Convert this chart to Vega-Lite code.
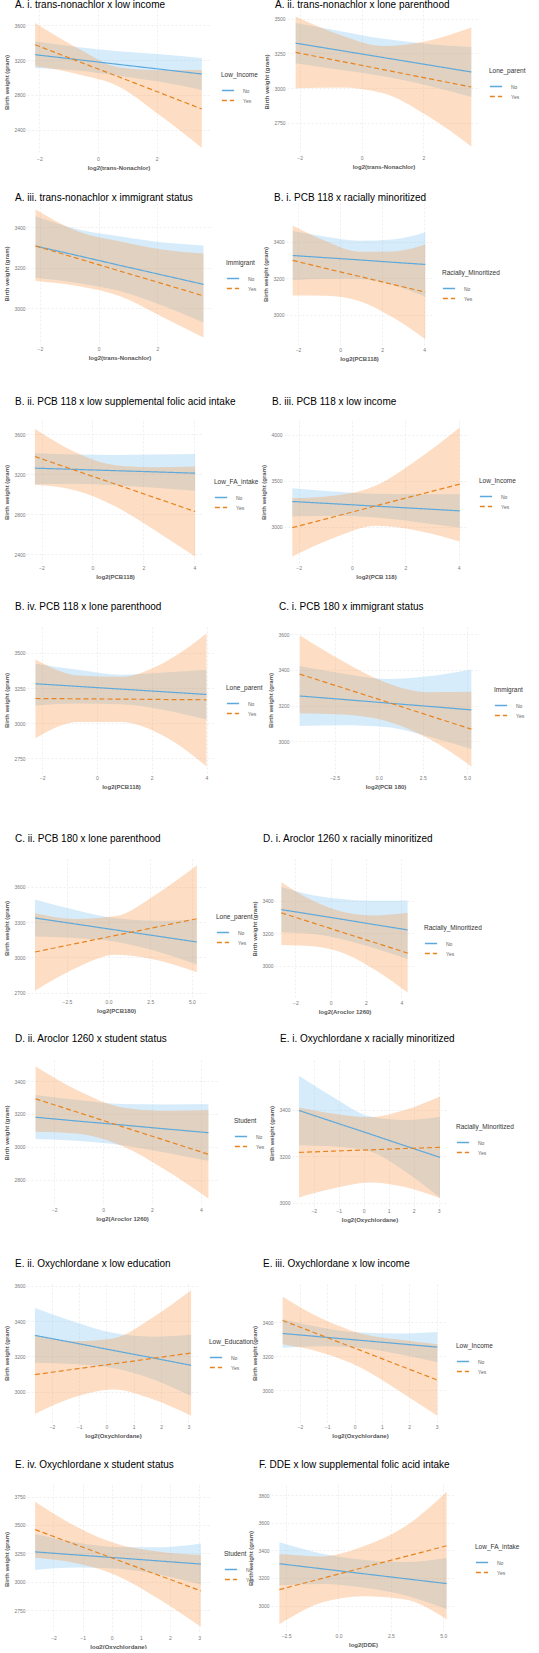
{
"$schema": "https://vega.github.io/schema/vega-lite/v6.json",
"background": "white",
"padding": {"left": 3, "top": 0, "right": 0, "bottom": 0},
"datasets": {
"p1": [
{"x":-2.14,"g":"No","fit":3261,"lo":3109,"hi":3413},{"x":-0.72,"g":"No","fit":3206,"lo":3080,"hi":3350},{"x":0.70,"g":"No","fit":3150,"lo":3020,"hi":3300},{"x":2.12,"g":"No","fit":3095,"lo":2950,"hi":3265},{"x":3.54,"g":"No","fit":3040,"lo":2857,"hi":3223},
{"x":-2.14,"g":"Yes","fit":3375,"lo":3128,"hi":3623},{"x":-0.72,"g":"Yes","fit":3191,"lo":3041,"hi":3341},{"x":0.70,"g":"Yes","fit":3008,"lo":2898,"hi":3118},{"x":2.12,"g":"Yes","fit":2824,"lo":2564,"hi":3084},{"x":3.54,"g":"Yes","fit":2640,"lo":2195,"hi":3085}],
"p2": [
{"x":-2.13,"g":"No","fit":3324,"lo":3179,"hi":3469},{"x":-0.71,"g":"No","fit":3272,"lo":3132,"hi":3412},{"x":0.71,"g":"No","fit":3220,"lo":3085,"hi":3355},{"x":2.13,"g":"No","fit":3168,"lo":3018,"hi":3318},{"x":3.55,"g":"No","fit":3116,"lo":2936,"hi":3296},
{"x":-2.13,"g":"Yes","fit":3257,"lo":2998,"hi":3516},{"x":-0.71,"g":"Yes","fit":3195,"lo":3005,"hi":3385},{"x":0.71,"g":"Yes","fit":3133,"lo":2963,"hi":3303},{"x":2.13,"g":"Yes","fit":3070,"lo":2800,"hi":3340},{"x":3.55,"g":"Yes","fit":3008,"lo":2579,"hi":3437}],
"p3": [
{"x":-2.15,"g":"No","fit":3307,"lo":3151,"hi":3454},{"x":-0.72,"g":"No","fit":3260,"lo":3125,"hi":3390},{"x":0.71,"g":"No","fit":3212,"lo":3085,"hi":3355},{"x":2.14,"g":"No","fit":3165,"lo":3015,"hi":3325},{"x":3.57,"g":"No","fit":3118,"lo":2930,"hi":3310},
{"x":-2.15,"g":"Yes","fit":3307,"lo":3134,"hi":3487},{"x":-0.72,"g":"Yes","fit":3246,"lo":3110,"hi":3380},{"x":0.71,"g":"Yes","fit":3184,"lo":3060,"hi":3330},{"x":2.14,"g":"Yes","fit":3123,"lo":2960,"hi":3290},{"x":3.57,"g":"Yes","fit":3061,"lo":2856,"hi":3270}],
"p4": [
{"x":-2.25,"g":"No","fit":3324,"lo":3189,"hi":3459},{"x":-0.68,"g":"No","fit":3312,"lo":3197,"hi":3427},{"x":0.90,"g":"No","fit":3300,"lo":3195,"hi":3405},{"x":2.48,"g":"No","fit":3287,"lo":3162,"hi":3412},{"x":4.05,"g":"No","fit":3275,"lo":3098,"hi":3452},
{"x":-2.25,"g":"Yes","fit":3297,"lo":3105,"hi":3489},{"x":-0.68,"g":"Yes","fit":3253,"lo":3103,"hi":3403},{"x":0.90,"g":"Yes","fit":3210,"lo":3075,"hi":3345},{"x":2.48,"g":"Yes","fit":3166,"lo":2986,"hi":3346},{"x":4.05,"g":"Yes","fit":3123,"lo":2864,"hi":3384}],
"p5": [
{"x":-2.26,"g":"No","fit":3260,"lo":3100,"hi":3409},{"x":-0.69,"g":"No","fit":3248,"lo":3105,"hi":3395},{"x":0.89,"g":"No","fit":3235,"lo":3090,"hi":3390},{"x":2.46,"g":"No","fit":3223,"lo":3065,"hi":3395},{"x":4.03,"g":"No","fit":3210,"lo":3034,"hi":3400},
{"x":-2.26,"g":"Yes","fit":3376,"lo":3094,"hi":3652},{"x":-0.69,"g":"Yes","fit":3239,"lo":3040,"hi":3420},{"x":0.89,"g":"Yes","fit":3102,"lo":2880,"hi":3290},{"x":2.46,"g":"Yes","fit":2965,"lo":2640,"hi":3270},{"x":4.03,"g":"Yes","fit":2828,"lo":2379,"hi":3276}],
"p6": [
{"x":-2.24,"g":"No","fit":3275,"lo":3111,"hi":3420},{"x":-0.67,"g":"No","fit":3250,"lo":3120,"hi":3385},{"x":0.90,"g":"No","fit":3224,"lo":3100,"hi":3360},{"x":2.47,"g":"No","fit":3199,"lo":3050,"hi":3355},{"x":4.04,"g":"No","fit":3173,"lo":2991,"hi":3355},
{"x":-2.24,"g":"Yes","fit":2991,"lo":2675,"hi":3311},{"x":-0.67,"g":"Yes","fit":3109,"lo":2879,"hi":3339},{"x":0.90,"g":"Yes","fit":3228,"lo":3010,"hi":3450},{"x":2.47,"g":"Yes","fit":3346,"lo":2956,"hi":3736},{"x":4.04,"g":"Yes","fit":3464,"lo":2838,"hi":4082}],
"p7": [
{"x":-2.24,"g":"No","fit":3281,"lo":3127,"hi":3423},{"x":-0.68,"g":"No","fit":3262,"lo":3140,"hi":3380},{"x":0.88,"g":"No","fit":3243,"lo":3135,"hi":3345},{"x":2.44,"g":"No","fit":3224,"lo":3095,"hi":3360},{"x":4.0,"g":"No","fit":3205,"lo":3027,"hi":3381},
{"x":-2.24,"g":"Yes","fit":3176,"lo":2894,"hi":3454},{"x":-0.68,"g":"Yes","fit":3174,"lo":3010,"hi":3340},{"x":0.88,"g":"Yes","fit":3172,"lo":3010,"hi":3330},{"x":2.44,"g":"Yes","fit":3169,"lo":2910,"hi":3430},{"x":4.0,"g":"Yes","fit":3167,"lo":2694,"hi":3637}],
"p8": [
{"x":-4.48,"g":"No","fit":3254,"lo":3086,"hi":3422},{"x":-2.05,"g":"No","fit":3235,"lo":3090,"hi":3380},{"x":0.39,"g":"No","fit":3215,"lo":3080,"hi":3350},{"x":2.82,"g":"No","fit":3196,"lo":3027,"hi":3365},{"x":5.25,"g":"No","fit":3176,"lo":2956,"hi":3403},
{"x":-4.48,"g":"Yes","fit":3377,"lo":3157,"hi":3595},{"x":-2.05,"g":"Yes","fit":3300,"lo":3150,"hi":3450},{"x":0.39,"g":"Yes","fit":3223,"lo":3115,"hi":3330},{"x":2.82,"g":"Yes","fit":3145,"lo":3015,"hi":3275},{"x":5.25,"g":"Yes","fit":3068,"lo":2859,"hi":3278}],
"p9": [
{"x":-4.42,"g":"No","fit":3334,"lo":3176,"hi":3492},{"x":-1.99,"g":"No","fit":3283,"lo":3163,"hi":3403},{"x":0.44,"g":"No","fit":3232,"lo":3132,"hi":3332},{"x":2.87,"g":"No","fit":3181,"lo":3051,"hi":3311},{"x":5.30,"g":"No","fit":3130,"lo":2938,"hi":3322},
{"x":-4.42,"g":"Yes","fit":3045,"lo":2715,"hi":3375},{"x":-1.99,"g":"Yes","fit":3116,"lo":2906,"hi":3326},{"x":0.44,"g":"Yes","fit":3186,"lo":3021,"hi":3351},{"x":2.87,"g":"Yes","fit":3257,"lo":2977,"hi":3537},{"x":5.30,"g":"Yes","fit":3328,"lo":2873,"hi":3783}],
"p10": [
{"x":-2.79,"g":"No","fit":3346,"lo":3206,"hi":3485},{"x":-1.00,"g":"No","fit":3315,"lo":3195,"hi":3435},{"x":0.78,"g":"No","fit":3284,"lo":3160,"hi":3410},{"x":2.57,"g":"No","fit":3252,"lo":3105,"hi":3400},{"x":4.36,"g":"No","fit":3221,"lo":3041,"hi":3402},
{"x":-2.79,"g":"Yes","fit":3326,"lo":3128,"hi":3515},{"x":-1.00,"g":"Yes","fit":3264,"lo":3120,"hi":3400},{"x":0.78,"g":"Yes","fit":3202,"lo":3075,"hi":3330},{"x":2.57,"g":"Yes","fit":3140,"lo":2970,"hi":3310},{"x":4.36,"g":"Yes","fit":3078,"lo":2835,"hi":3326}],
"p11": [
{"x":-2.76,"g":"No","fit":3180,"lo":3047,"hi":3316},{"x":-0.99,"g":"No","fit":3156,"lo":3035,"hi":3285},{"x":0.78,"g":"No","fit":3133,"lo":3010,"hi":3260},{"x":2.54,"g":"No","fit":3109,"lo":2965,"hi":3258},{"x":4.31,"g":"No","fit":3086,"lo":2913,"hi":3259},
{"x":-2.76,"g":"Yes","fit":3292,"lo":3092,"hi":3489},{"x":-0.99,"g":"Yes","fit":3208,"lo":3080,"hi":3340},{"x":0.78,"g":"Yes","fit":3123,"lo":3005,"hi":3240},{"x":2.54,"g":"Yes","fit":3039,"lo":2860,"hi":3220},{"x":4.31,"g":"Yes","fit":2954,"lo":2685,"hi":3224}],
"p12": [
{"x":-2.59,"g":"No","fit":3397,"lo":3248,"hi":3546},{"x":-1.18,"g":"No","fit":3347,"lo":3242,"hi":3452},{"x":0.23,"g":"No","fit":3297,"lo":3222,"hi":3372},{"x":1.64,"g":"No","fit":3246,"lo":3136,"hi":3356},{"x":3.05,"g":"No","fit":3196,"lo":3022,"hi":3370},
{"x":-2.59,"g":"Yes","fit":3217,"lo":3024,"hi":3410},{"x":-1.18,"g":"Yes","fit":3223,"lo":3063,"hi":3383},{"x":0.23,"g":"Yes","fit":3228,"lo":3088,"hi":3368},{"x":1.64,"g":"Yes","fit":3234,"lo":3069,"hi":3399},{"x":3.05,"g":"Yes","fit":3239,"lo":3021,"hi":3457}],
"p13": [
{"x":-2.62,"g":"No","fit":3319,"lo":3164,"hi":3474},{"x":-1.19,"g":"No","fit":3277,"lo":3157,"hi":3397},{"x":0.24,"g":"No","fit":3234,"lo":3134,"hi":3334},{"x":1.67,"g":"No","fit":3192,"lo":3072,"hi":3312},{"x":3.10,"g":"No","fit":3149,"lo":2975,"hi":3323},
{"x":-2.62,"g":"Yes","fit":3096,"lo":2872,"hi":3320},{"x":-1.19,"g":"Yes","fit":3127,"lo":2967,"hi":3287},{"x":0.24,"g":"Yes","fit":3157,"lo":3012,"hi":3302},{"x":1.67,"g":"Yes","fit":3188,"lo":2958,"hi":3418},{"x":3.10,"g":"Yes","fit":3219,"lo":2863,"hi":3575}],
"p14": [
{"x":-2.63,"g":"No","fit":3333,"lo":3249,"hi":3417},{"x":-1.22,"g":"No","fit":3313,"lo":3258,"hi":3368},{"x":0.20,"g":"No","fit":3293,"lo":3248,"hi":3338},{"x":1.62,"g":"No","fit":3273,"lo":3213,"hi":3333},{"x":3.03,"g":"No","fit":3253,"lo":3164,"hi":3342},
{"x":-2.63,"g":"Yes","fit":3409,"lo":3270,"hi":3548},{"x":-1.22,"g":"Yes","fit":3322,"lo":3222,"hi":3422},{"x":0.20,"g":"Yes","fit":3235,"lo":3135,"hi":3335},{"x":1.62,"g":"Yes","fit":3147,"lo":2997,"hi":3297},{"x":3.03,"g":"Yes","fit":3060,"lo":2850,"hi":3270}],
"p15": [
{"x":-2.63,"g":"No","fit":3264,"lo":3106,"hi":3422},{"x":-1.21,"g":"No","fit":3237,"lo":3127,"hi":3347},{"x":0.22,"g":"No","fit":3211,"lo":3116,"hi":3306},{"x":1.64,"g":"No","fit":3184,"lo":3064,"hi":3304},{"x":3.06,"g":"No","fit":3157,"lo":2977,"hi":3337},
{"x":-2.63,"g":"Yes","fit":3459,"lo":3213,"hi":3705},{"x":-1.21,"g":"Yes","fit":3325,"lo":3165,"hi":3485},{"x":0.22,"g":"Yes","fit":3191,"lo":3051,"hi":3331},{"x":1.64,"g":"Yes","fit":3056,"lo":2846,"hi":3266},{"x":3.06,"g":"Yes","fit":2922,"lo":2607,"hi":3237}],
"p16": [
{"x":-2.82,"g":"No","fit":3303,"lo":3148,"hi":3458},{"x":-0.82,"g":"No","fit":3267,"lo":3157,"hi":3377},{"x":1.17,"g":"No","fit":3231,"lo":3131,"hi":3331},{"x":3.17,"g":"No","fit":3195,"lo":3075,"hi":3315},{"x":5.16,"g":"No","fit":3159,"lo":2974,"hi":3344},
{"x":-2.82,"g":"Yes","fit":3116,"lo":2864,"hi":3373},{"x":-0.82,"g":"Yes","fit":3195,"lo":3020,"hi":3356},{"x":1.17,"g":"Yes","fit":3275,"lo":3068,"hi":3428},{"x":3.17,"g":"Yes","fit":3354,"lo":3044,"hi":3572},{"x":5.16,"g":"Yes","fit":3433,"lo":2900,"hi":3825}]
},
"spacing": 23,
"resolve": {"scale": {"x": "independent", "y": "independent", "stroke": "independent", "strokeDash": "independent"}, "legend": {"stroke": "independent", "strokeDash": "independent"}},
"vconcat": [
{"hconcat": [
 {"title": {"text": "A.  i. trans-nonachlor x low income", "offset": 0}, "width": 183, "height": 144, "data": {"name": "p1"},
  "encoding": {"x": {"field": "x", "type": "quantitative", "scale": {"domain": [-2.42, 3.82], "nice": false, "zero": false}, "axis": {"values": [-2, 0, 2], "title": "log2(trans-Nonachlor)"}}, "y": {"field": "hi", "type": "quantitative", "scale": {"domain": [2124, 3773], "nice": false, "zero": false}, "axis": {"values": [2400, 2800, 3200, 3600], "format": "d", "title": "Birth weight (gram)"}}},
  "layer": [
   {"transform": [{"filter": {"field": "g", "equal": "No"}}], "mark": {"type": "area", "fill": "#7AC0EE", "opacity": 0.3, "interpolate": "monotone"}, "encoding": {"y2": {"field": "lo"}}},
   {"transform": [{"filter": {"field": "g", "equal": "Yes"}}], "mark": {"type": "area", "fill": "#F8913A", "opacity": 0.3, "interpolate": "monotone"}, "encoding": {"y2": {"field": "lo"}}},
   {"mark": {"type": "line", "strokeWidth": 1.2}, "encoding": {"y": {"field": "fit", "type": "quantitative"},
    "stroke": {"field": "g", "type": "nominal", "scale": {"domain": ["No", "Yes"], "range": ["#5DA9DC", "#E8841F"]}, "legend": {"title": "Low_Income", "orient": "none", "legendX": 194, "legendY": 62}},
    "strokeDash": {"field": "g", "type": "nominal", "scale": {"domain": ["No", "Yes"], "range": [[1, 0], [5, 3]]}, "legend": {"title": "Low_Income", "orient": "none", "legendX": 194, "legendY": 62}}}}
  ]},
 {"title": {"text": "A. ii. trans-nonachlor x lone parenthood", "offset": 0}, "width": 193, "height": 143, "data": {"name": "p2"},
  "encoding": {"x": {"field": "x", "type": "quantitative", "scale": {"domain": [-2.41, 3.83], "nice": false, "zero": false}, "axis": {"values": [-2, 0, 2], "title": "log2(trans-Nonachlor)"}}, "y": {"field": "hi", "type": "quantitative", "scale": {"domain": [2532, 3563], "nice": false, "zero": false}, "axis": {"values": [2750, 3000, 3250, 3500], "format": "d", "title": "Birth weight (gram)"}}},
  "layer": [
   {"transform": [{"filter": {"field": "g", "equal": "No"}}], "mark": {"type": "area", "fill": "#7AC0EE", "opacity": 0.3, "interpolate": "monotone"}, "encoding": {"y2": {"field": "lo"}}},
   {"transform": [{"filter": {"field": "g", "equal": "Yes"}}], "mark": {"type": "area", "fill": "#F8913A", "opacity": 0.3, "interpolate": "monotone"}, "encoding": {"y2": {"field": "lo"}}},
   {"mark": {"type": "line", "strokeWidth": 1.2}, "encoding": {"y": {"field": "fit", "type": "quantitative"},
    "stroke": {"field": "g", "type": "nominal", "scale": {"domain": ["No", "Yes"], "range": ["#5DA9DC", "#E8841F"]}, "legend": {"title": "Lone_parent", "orient": "none", "legendX": 202, "legendY": 58}},
    "strokeDash": {"field": "g", "type": "nominal", "scale": {"domain": ["No", "Yes"], "range": [[1, 0], [5, 3]]}, "legend": {"title": "Lone_parent", "orient": "none", "legendX": 202, "legendY": 58}}}}
  ]}
 ], "spacing": 77, "bounds": "flush",
 "resolve": {"scale": {"x": "independent", "y": "independent", "stroke": "independent", "strokeDash": "independent"}, "legend": {"stroke": "independent", "strokeDash": "independent"}}},
{"spacing": 36,
 "resolve": {"scale": {"x": "independent", "y": "independent", "stroke": "independent", "strokeDash": "independent"}, "legend": {"stroke": "independent", "strokeDash": "independent"}},
 "vconcat": [
{"hconcat": [
 {"title": {"text": "A.  iii. trans-nonachlor x immigrant status", "offset": 0}, "width": 185, "height": 141, "data": {"name": "p3"},
  "encoding": {"x": {"field": "x", "type": "quantitative", "scale": {"domain": [-2.44, 3.86], "nice": false, "zero": false}, "axis": {"values": [-2, 0, 2], "title": "log2(trans-Nonachlor)"}}, "y": {"field": "hi", "type": "quantitative", "scale": {"domain": [2824, 3519], "nice": false, "zero": false}, "axis": {"values": [3000, 3200, 3400], "format": "d", "title": "Birth weight (gram)"}}},
  "layer": [
   {"transform": [{"filter": {"field": "g", "equal": "No"}}], "mark": {"type": "area", "fill": "#7AC0EE", "opacity": 0.3, "interpolate": "monotone"}, "encoding": {"y2": {"field": "lo"}}},
   {"transform": [{"filter": {"field": "g", "equal": "Yes"}}], "mark": {"type": "area", "fill": "#F8913A", "opacity": 0.3, "interpolate": "monotone"}, "encoding": {"y2": {"field": "lo"}}},
   {"mark": {"type": "line", "strokeWidth": 1.2}, "encoding": {"y": {"field": "fit", "type": "quantitative"},
    "stroke": {"field": "g", "type": "nominal", "scale": {"domain": ["No", "Yes"], "range": ["#5DA9DC", "#E8841F"]}, "legend": {"title": "Immigrant", "orient": "none", "legendX": 199, "legendY": 57}},
    "strokeDash": {"field": "g", "type": "nominal", "scale": {"domain": ["No", "Yes"], "range": [[1, 0], [5, 3]]}, "legend": {"title": "Immigrant", "orient": "none", "legendX": 199, "legendY": 57}}}}
  ]},
 {"title": {"text": "B. i. PCB 118 x racially minoritized", "offset": 0}, "width": 146, "height": 142, "data": {"name": "p4"},
  "encoding": {"x": {"field": "x", "type": "quantitative", "scale": {"domain": [-2.57, 4.37], "nice": false, "zero": false}, "axis": {"values": [-2, 0, 2, 4], "title": "log2(PCB118)"}}, "y": {"field": "hi", "type": "quantitative", "scale": {"domain": [2833, 3612], "nice": false, "zero": false}, "axis": {"values": [3000, 3200, 3400], "format": "d", "title": "Birth weight (gram)"}}},
  "layer": [
   {"transform": [{"filter": {"field": "g", "equal": "No"}}], "mark": {"type": "area", "fill": "#7AC0EE", "opacity": 0.3, "interpolate": "monotone"}, "encoding": {"y2": {"field": "lo"}}},
   {"transform": [{"filter": {"field": "g", "equal": "Yes"}}], "mark": {"type": "area", "fill": "#F8913A", "opacity": 0.3, "interpolate": "monotone"}, "encoding": {"y2": {"field": "lo"}}},
   {"mark": {"type": "line", "strokeWidth": 1.2}, "encoding": {"y": {"field": "fit", "type": "quantitative"},
    "stroke": {"field": "g", "type": "nominal", "scale": {"domain": ["No", "Yes"], "range": ["#5DA9DC", "#E8841F"]}, "legend": {"title": "Racially_Minoritized", "orient": "none", "legendX": 156, "legendY": 67}},
    "strokeDash": {"field": "g", "type": "nominal", "scale": {"domain": ["No", "Yes"], "range": [[1, 0], [5, 3]]}, "legend": {"title": "Racially_Minoritized", "orient": "none", "legendX": 156, "legendY": 67}}}}
  ]}
 ], "spacing": 74, "bounds": "flush",
 "resolve": {"scale": {"x": "independent", "y": "independent", "stroke": "independent", "strokeDash": "independent"}, "legend": {"stroke": "independent", "strokeDash": "independent"}}},
{"spacing": 23,
 "resolve": {"scale": {"x": "independent", "y": "independent", "stroke": "independent", "strokeDash": "independent"}, "legend": {"stroke": "independent", "strokeDash": "independent"}},
 "vconcat": [
{"hconcat": [
 {"title": {"text": "B.  ii. PCB 118 x low supplemental folic acid intake", "offset": 14}, "width": 176, "height": 142, "data": {"name": "p5"},
  "encoding": {"x": {"field": "x", "type": "quantitative", "scale": {"domain": [-2.57, 4.34], "nice": false, "zero": false}, "axis": {"values": [-2, 0, 2, 4], "title": "log2(PCB118)"}}, "y": {"field": "hi", "type": "quantitative", "scale": {"domain": [2315, 3730], "nice": false, "zero": false}, "axis": {"values": [2400, 2800, 3200, 3600], "format": "d", "title": "Birth weight (gram)"}}},
  "layer": [
   {"transform": [{"filter": {"field": "g", "equal": "No"}}], "mark": {"type": "area", "fill": "#7AC0EE", "opacity": 0.3, "interpolate": "monotone"}, "encoding": {"y2": {"field": "lo"}}},
   {"transform": [{"filter": {"field": "g", "equal": "Yes"}}], "mark": {"type": "area", "fill": "#F8913A", "opacity": 0.3, "interpolate": "monotone"}, "encoding": {"y2": {"field": "lo"}}},
   {"mark": {"type": "line", "strokeWidth": 1.2}, "encoding": {"y": {"field": "fit", "type": "quantitative"},
    "stroke": {"field": "g", "type": "nominal", "scale": {"domain": ["No", "Yes"], "range": ["#5DA9DC", "#E8841F"]}, "legend": {"title": "Low_FA_intake", "orient": "none", "legendX": 187, "legendY": 58}},
    "strokeDash": {"field": "g", "type": "nominal", "scale": {"domain": ["No", "Yes"], "range": [[1, 0], [5, 3]]}, "legend": {"title": "Low_FA_intake", "orient": "none", "legendX": 187, "legendY": 58}}}}
  ]},
 {"title": {"text": "B. iii. PCB 118 x low income", "offset": 14}, "width": 184, "height": 142, "data": {"name": "p6"},
  "encoding": {"x": {"field": "x", "type": "quantitative", "scale": {"domain": [-2.55, 4.35], "nice": false, "zero": false}, "axis": {"values": [-2, 0, 2, 4], "title": "log2(PCB 118)"}}, "y": {"field": "hi", "type": "quantitative", "scale": {"domain": [2605, 4152], "nice": false, "zero": false}, "axis": {"values": [3000, 3500, 4000], "format": "d", "title": "Birth weight (gram)"}}},
  "layer": [
   {"transform": [{"filter": {"field": "g", "equal": "No"}}], "mark": {"type": "area", "fill": "#7AC0EE", "opacity": 0.3, "interpolate": "monotone"}, "encoding": {"y2": {"field": "lo"}}},
   {"transform": [{"filter": {"field": "g", "equal": "Yes"}}], "mark": {"type": "area", "fill": "#F8913A", "opacity": 0.3, "interpolate": "monotone"}, "encoding": {"y2": {"field": "lo"}}},
   {"mark": {"type": "line", "strokeWidth": 1.2}, "encoding": {"y": {"field": "fit", "type": "quantitative"},
    "stroke": {"field": "g", "type": "nominal", "scale": {"domain": ["No", "Yes"], "range": ["#5DA9DC", "#E8841F"]}, "legend": {"title": "Low_Income", "orient": "none", "legendX": 195, "legendY": 57}},
    "strokeDash": {"field": "g", "type": "nominal", "scale": {"domain": ["No", "Yes"], "range": [[1, 0], [5, 3]]}, "legend": {"title": "Low_Income", "orient": "none", "legendX": 195, "legendY": 57}}}}
  ]}
 ], "spacing": 81, "bounds": "flush",
 "resolve": {"scale": {"x": "independent", "y": "independent", "stroke": "independent", "strokeDash": "independent"}, "legend": {"stroke": "independent", "strokeDash": "independent"}}},
{"spacing": 45,
 "resolve": {"scale": {"x": "independent", "y": "independent", "stroke": "independent", "strokeDash": "independent"}, "legend": {"stroke": "independent", "strokeDash": "independent"}},
 "vconcat": [
{"hconcat": [
 {"title": {"text": "B.  iv. PCB 118 x lone parenthood", "offset": 15}, "width": 188, "height": 146, "data": {"name": "p7"},
  "encoding": {"x": {"field": "x", "type": "quantitative", "scale": {"domain": [-2.55, 4.31], "nice": false, "zero": false}, "axis": {"values": [-2, 0, 2, 4], "title": "log2(PCB118)"}}, "y": {"field": "hi", "type": "quantitative", "scale": {"domain": [2647, 3684], "nice": false, "zero": false}, "axis": {"values": [2750, 3000, 3250, 3500], "format": "d", "title": "Birth weight (gram)"}}},
  "layer": [
   {"transform": [{"filter": {"field": "g", "equal": "No"}}], "mark": {"type": "area", "fill": "#7AC0EE", "opacity": 0.3, "interpolate": "monotone"}, "encoding": {"y2": {"field": "lo"}}},
   {"transform": [{"filter": {"field": "g", "equal": "Yes"}}], "mark": {"type": "area", "fill": "#F8913A", "opacity": 0.3, "interpolate": "monotone"}, "encoding": {"y2": {"field": "lo"}}},
   {"mark": {"type": "line", "strokeWidth": 1.2}, "encoding": {"y": {"field": "fit", "type": "quantitative"},
    "stroke": {"field": "g", "type": "nominal", "scale": {"domain": ["No", "Yes"], "range": ["#5DA9DC", "#E8841F"]}, "legend": {"title": "Lone_parent", "orient": "none", "legendX": 199, "legendY": 58}},
    "strokeDash": {"field": "g", "type": "nominal", "scale": {"domain": ["No", "Yes"], "range": [[1, 0], [5, 3]]}, "legend": {"title": "Lone_parent", "orient": "none", "legendX": 199, "legendY": 58}}}}
  ]},
 {"title": {"text": "C. i. PCB 180 x immigrant status", "offset": 15}, "width": 189, "height": 146, "data": {"name": "p8"},
  "encoding": {"x": {"field": "x", "type": "quantitative", "scale": {"domain": [-4.97, 5.74], "nice": false, "zero": false}, "axis": {"values": [-2.5, 0, 2.5, 5], "format": ".1f", "title": "log2(PCB 180)"}}, "y": {"field": "hi", "type": "quantitative", "scale": {"domain": [2822, 3641], "nice": false, "zero": false}, "axis": {"values": [3000, 3200, 3400, 3600], "format": "d", "title": "Birth weight (gram)"}}},
  "layer": [
   {"transform": [{"filter": {"field": "g", "equal": "No"}}], "mark": {"type": "area", "fill": "#7AC0EE", "opacity": 0.3, "interpolate": "monotone"}, "encoding": {"y2": {"field": "lo"}}},
   {"transform": [{"filter": {"field": "g", "equal": "Yes"}}], "mark": {"type": "area", "fill": "#F8913A", "opacity": 0.3, "interpolate": "monotone"}, "encoding": {"y2": {"field": "lo"}}},
   {"mark": {"type": "line", "strokeWidth": 1.2}, "encoding": {"y": {"field": "fit", "type": "quantitative"},
    "stroke": {"field": "g", "type": "nominal", "scale": {"domain": ["No", "Yes"], "range": ["#5DA9DC", "#E8841F"]}, "legend": {"title": "Immigrant", "orient": "none", "legendX": 203, "legendY": 60}},
    "strokeDash": {"field": "g", "type": "nominal", "scale": {"domain": ["No", "Yes"], "range": [[1, 0], [5, 3]]}, "legend": {"title": "Immigrant", "orient": "none", "legendX": 203, "legendY": 60}}}}
  ]}
 ], "spacing": 76, "bounds": "flush",
 "resolve": {"scale": {"x": "independent", "y": "independent", "stroke": "independent", "strokeDash": "independent"}, "legend": {"stroke": "independent", "strokeDash": "independent"}}},
{"spacing": 20,
 "resolve": {"scale": {"x": "independent", "y": "independent", "stroke": "independent", "strokeDash": "independent"}, "legend": {"stroke": "independent", "strokeDash": "independent"}},
 "vconcat": [
{"hconcat": [
 {"title": {"text": "C. ii. PCB 180 x lone parenthood", "offset": 15}, "width": 178, "height": 138, "data": {"name": "p9"},
  "encoding": {"x": {"field": "x", "type": "quantitative", "scale": {"domain": [-4.9, 5.79], "nice": false, "zero": false}, "axis": {"values": [-2.5, 0, 2.5, 5], "format": ".1f", "title": "log2(PCB180)"}}, "y": {"field": "hi", "type": "quantitative", "scale": {"domain": [2662, 3836], "nice": false, "zero": false}, "axis": {"values": [2700, 3000, 3300, 3600], "format": "d", "title": "Birth weight (gram)"}}},
  "layer": [
   {"transform": [{"filter": {"field": "g", "equal": "No"}}], "mark": {"type": "area", "fill": "#7AC0EE", "opacity": 0.3, "interpolate": "monotone"}, "encoding": {"y2": {"field": "lo"}}},
   {"transform": [{"filter": {"field": "g", "equal": "Yes"}}], "mark": {"type": "area", "fill": "#F8913A", "opacity": 0.3, "interpolate": "monotone"}, "encoding": {"y2": {"field": "lo"}}},
   {"mark": {"type": "line", "strokeWidth": 1.2}, "encoding": {"y": {"field": "fit", "type": "quantitative"},
    "stroke": {"field": "g", "type": "nominal", "scale": {"domain": ["No", "Yes"], "range": ["#5DA9DC", "#E8841F"]}, "legend": {"title": "Lone_parent", "orient": "none", "legendX": 189, "legendY": 55}},
    "strokeDash": {"field": "g", "type": "nominal", "scale": {"domain": ["No", "Yes"], "range": [[1, 0], [5, 3]]}, "legend": {"title": "Lone_parent", "orient": "none", "legendX": 189, "legendY": 55}}}}
  ]},
 {"title": {"text": "D. i. Aroclor 1260 x racially minoritized", "offset": 15}, "width": 139, "height": 139, "data": {"name": "p10"},
  "encoding": {"x": {"field": "x", "type": "quantitative", "scale": {"domain": [-3.15, 4.72], "nice": false, "zero": false}, "axis": {"values": [-2, 0, 2, 4], "title": "log2(Aroclor 1260)"}}, "y": {"field": "hi", "type": "quantitative", "scale": {"domain": [2801, 3658], "nice": false, "zero": false}, "axis": {"values": [3000, 3200, 3400], "format": "d", "title": "Birth weight (gram)"}}},
  "layer": [
   {"transform": [{"filter": {"field": "g", "equal": "No"}}], "mark": {"type": "area", "fill": "#7AC0EE", "opacity": 0.3, "interpolate": "monotone"}, "encoding": {"y2": {"field": "lo"}}},
   {"transform": [{"filter": {"field": "g", "equal": "Yes"}}], "mark": {"type": "area", "fill": "#F8913A", "opacity": 0.3, "interpolate": "monotone"}, "encoding": {"y2": {"field": "lo"}}},
   {"mark": {"type": "line", "strokeWidth": 1.2}, "encoding": {"y": {"field": "fit", "type": "quantitative"},
    "stroke": {"field": "g", "type": "nominal", "scale": {"domain": ["No", "Yes"], "range": ["#5DA9DC", "#E8841F"]}, "legend": {"title": "Racially_Minoritized", "orient": "none", "legendX": 149, "legendY": 66}},
    "strokeDash": {"field": "g", "type": "nominal", "scale": {"domain": ["No", "Yes"], "range": [[1, 0], [5, 3]]}, "legend": {"title": "Racially_Minoritized", "orient": "none", "legendX": 149, "legendY": 66}}}}
  ]}
 ], "spacing": 70, "bounds": "flush",
 "resolve": {"scale": {"x": "independent", "y": "independent", "stroke": "independent", "strokeDash": "independent"}, "legend": {"stroke": "independent", "strokeDash": "independent"}}},
{"spacing": 36,
 "resolve": {"scale": {"x": "independent", "y": "independent", "stroke": "independent", "strokeDash": "independent"}, "legend": {"stroke": "independent", "strokeDash": "independent"}},
 "vconcat": [
{"hconcat": [
 {"title": {"text": "D. ii. Aroclor 1260 x student status", "offset": 16}, "width": 190, "height": 145, "data": {"name": "p11"},
  "encoding": {"x": {"field": "x", "type": "quantitative", "scale": {"domain": [-3.11, 4.66], "nice": false, "zero": false}, "axis": {"values": [-2, 0, 2, 4], "title": "log2(Aroclor 1260)"}}, "y": {"field": "hi", "type": "quantitative", "scale": {"domain": [2645, 3529], "nice": false, "zero": false}, "axis": {"values": [2800, 3000, 3200, 3400], "format": "d", "title": "Birth weight (gram)"}}},
  "layer": [
   {"transform": [{"filter": {"field": "g", "equal": "No"}}], "mark": {"type": "area", "fill": "#7AC0EE", "opacity": 0.3, "interpolate": "monotone"}, "encoding": {"y2": {"field": "lo"}}},
   {"transform": [{"filter": {"field": "g", "equal": "Yes"}}], "mark": {"type": "area", "fill": "#F8913A", "opacity": 0.3, "interpolate": "monotone"}, "encoding": {"y2": {"field": "lo"}}},
   {"mark": {"type": "line", "strokeWidth": 1.2}, "encoding": {"y": {"field": "fit", "type": "quantitative"},
    "stroke": {"field": "g", "type": "nominal", "scale": {"domain": ["No", "Yes"], "range": ["#5DA9DC", "#E8841F"]}, "legend": {"title": "Student", "orient": "none", "legendX": 207, "legendY": 58}},
    "strokeDash": {"field": "g", "type": "nominal", "scale": {"domain": ["No", "Yes"], "range": [[1, 0], [5, 3]]}, "legend": {"title": "Student", "orient": "none", "legendX": 207, "legendY": 58}}}}
  ]},
 {"title": {"text": "E. i. Oxychlordane x racially minoritized", "offset": 16}, "width": 155, "height": 146, "data": {"name": "p12"},
  "encoding": {"x": {"field": "x", "type": "quantitative", "scale": {"domain": [-2.87, 3.33], "nice": false, "zero": false}, "axis": {"values": [-2, -1, 0, 1, 2, 3], "title": "log2(Oxychlordane)"}}, "y": {"field": "hi", "type": "quantitative", "scale": {"domain": [2987, 3614], "nice": false, "zero": false}, "axis": {"values": [3000, 3200, 3400], "format": "d", "title": "Birth weight (gram)"}}},
  "layer": [
   {"transform": [{"filter": {"field": "g", "equal": "No"}}], "mark": {"type": "area", "fill": "#7AC0EE", "opacity": 0.3, "interpolate": "monotone"}, "encoding": {"y2": {"field": "lo"}}},
   {"transform": [{"filter": {"field": "g", "equal": "Yes"}}], "mark": {"type": "area", "fill": "#F8913A", "opacity": 0.3, "interpolate": "monotone"}, "encoding": {"y2": {"field": "lo"}}},
   {"mark": {"type": "line", "strokeWidth": 1.2}, "encoding": {"y": {"field": "fit", "type": "quantitative"},
    "stroke": {"field": "g", "type": "nominal", "scale": {"domain": ["No", "Yes"], "range": ["#5DA9DC", "#E8841F"]}, "legend": {"title": "Racially_Minoritized", "orient": "none", "legendX": 164, "legendY": 64}},
    "strokeDash": {"field": "g", "type": "nominal", "scale": {"domain": ["No", "Yes"], "range": [[1, 0], [5, 3]]}, "legend": {"title": "Racially_Minoritized", "orient": "none", "legendX": 164, "legendY": 64}}}}
  ]}
 ], "spacing": 75, "bounds": "flush",
 "resolve": {"scale": {"x": "independent", "y": "independent", "stroke": "independent", "strokeDash": "independent"}, "legend": {"stroke": "independent", "strokeDash": "independent"}}},
{"spacing": 22,
 "resolve": {"scale": {"x": "independent", "y": "independent", "stroke": "independent", "strokeDash": "independent"}, "legend": {"stroke": "independent", "strokeDash": "independent"}},
 "vconcat": [
{"hconcat": [
 {"title": {"text": "E. ii. Oxychlordane x low education", "offset": 15}, "width": 172, "height": 138, "data": {"name": "p13"},
  "encoding": {"x": {"field": "x", "type": "quantitative", "scale": {"domain": [-2.91, 3.39], "nice": false, "zero": false}, "axis": {"values": [-2, -1, 0, 1, 2, 3], "title": "log2(Oxychlordane)"}}, "y": {"field": "hi", "type": "quantitative", "scale": {"domain": [2827, 3611], "nice": false, "zero": false}, "axis": {"values": [3000, 3200, 3400, 3600], "format": "d", "title": "Birth weight (gram)"}}},
  "layer": [
   {"transform": [{"filter": {"field": "g", "equal": "No"}}], "mark": {"type": "area", "fill": "#7AC0EE", "opacity": 0.3, "interpolate": "monotone"}, "encoding": {"y2": {"field": "lo"}}},
   {"transform": [{"filter": {"field": "g", "equal": "Yes"}}], "mark": {"type": "area", "fill": "#F8913A", "opacity": 0.3, "interpolate": "monotone"}, "encoding": {"y2": {"field": "lo"}}},
   {"mark": {"type": "line", "strokeWidth": 1.2}, "encoding": {"y": {"field": "fit", "type": "quantitative"},
    "stroke": {"field": "g", "type": "nominal", "scale": {"domain": ["No", "Yes"], "range": ["#5DA9DC", "#E8841F"]}, "legend": {"title": "Low_Education", "orient": "none", "legendX": 182, "legendY": 55}},
    "strokeDash": {"field": "g", "type": "nominal", "scale": {"domain": ["No", "Yes"], "range": [[1, 0], [5, 3]]}, "legend": {"title": "Low_Education", "orient": "none", "legendX": 182, "legendY": 55}}}}
  ]},
 {"title": {"text": "E. iii. Oxychlordane x low income", "offset": 15}, "width": 170, "height": 138, "data": {"name": "p14"},
  "encoding": {"x": {"field": "x", "type": "quantitative", "scale": {"domain": [-2.91, 3.31], "nice": false, "zero": false}, "axis": {"values": [-2, -1, 0, 1, 2, 3], "title": "log2(Oxychlordane)"}}, "y": {"field": "hi", "type": "quantitative", "scale": {"domain": [2814, 3623], "nice": false, "zero": false}, "axis": {"values": [3000, 3200, 3400], "format": "d", "title": "Birth weight (gram)"}}},
  "layer": [
   {"transform": [{"filter": {"field": "g", "equal": "No"}}], "mark": {"type": "area", "fill": "#7AC0EE", "opacity": 0.3, "interpolate": "monotone"}, "encoding": {"y2": {"field": "lo"}}},
   {"transform": [{"filter": {"field": "g", "equal": "Yes"}}], "mark": {"type": "area", "fill": "#F8913A", "opacity": 0.3, "interpolate": "monotone"}, "encoding": {"y2": {"field": "lo"}}},
   {"mark": {"type": "line", "strokeWidth": 1.2}, "encoding": {"y": {"field": "fit", "type": "quantitative"},
    "stroke": {"field": "g", "type": "nominal", "scale": {"domain": ["No", "Yes"], "range": ["#5DA9DC", "#E8841F"]}, "legend": {"title": "Low_Income", "orient": "none", "legendX": 181, "legendY": 59}},
    "strokeDash": {"field": "g", "type": "nominal", "scale": {"domain": ["No", "Yes"], "range": [[1, 0], [5, 3]]}, "legend": {"title": "Low_Income", "orient": "none", "legendX": 181, "legendY": 59}}}}
  ]}
 ], "spacing": 76, "bounds": "flush",
 "resolve": {"scale": {"x": "independent", "y": "independent", "stroke": "independent", "strokeDash": "independent"}, "legend": {"stroke": "independent", "strokeDash": "independent"}}},
{"hconcat": [
 {"title": {"text": "E. iv. Oxychlordane x student status", "offset": 15}, "width": 182, "height": 148, "data": {"name": "p15"},
  "encoding": {"x": {"field": "x", "type": "quantitative", "scale": {"domain": [-2.91, 3.34], "nice": false, "zero": false}, "axis": {"values": [-2, -1, 0, 1, 2, 3], "title": "log2(Oxychlordane)"}}, "y": {"field": "hi", "type": "quantitative", "scale": {"domain": [2552, 3851], "nice": false, "zero": false}, "axis": {"values": [2750, 3000, 3250, 3500, 3750], "format": "d", "title": "Birth weight (gram)"}}},
  "layer": [
   {"transform": [{"filter": {"field": "g", "equal": "No"}}], "mark": {"type": "area", "fill": "#7AC0EE", "opacity": 0.3, "interpolate": "monotone"}, "encoding": {"y2": {"field": "lo"}}},
   {"transform": [{"filter": {"field": "g", "equal": "Yes"}}], "mark": {"type": "area", "fill": "#F8913A", "opacity": 0.3, "interpolate": "monotone"}, "encoding": {"y2": {"field": "lo"}}},
   {"mark": {"type": "line", "strokeWidth": 1.2}, "encoding": {"y": {"field": "fit", "type": "quantitative"},
    "stroke": {"field": "g", "type": "nominal", "scale": {"domain": ["No", "Yes"], "range": ["#5DA9DC", "#E8841F"]}, "legend": {"title": "Student", "orient": "none", "legendX": 197, "legendY": 66}},
    "strokeDash": {"field": "g", "type": "nominal", "scale": {"domain": ["No", "Yes"], "range": [[1, 0], [5, 3]]}, "legend": {"title": "Student", "orient": "none", "legendX": 197, "legendY": 66}}}}
  ]},
 {"title": {"text": "F. DDE x low supplemental folic acid intake", "offset": 15}, "width": 184, "height": 146, "data": {"name": "p16"},
  "encoding": {"x": {"field": "x", "type": "quantitative", "scale": {"domain": [-3.22, 5.56], "nice": false, "zero": false}, "axis": {"values": [-2.5, 0, 2.5, 5], "format": ".1f", "title": "log2(DDE)"}}, "y": {"field": "hi", "type": "quantitative", "scale": {"domain": [2816, 3873], "nice": false, "zero": false}, "axis": {"values": [3000, 3200, 3400, 3600, 3800], "format": "d", "title": "Birth weight (gram)"}}},
  "layer": [
   {"transform": [{"filter": {"field": "g", "equal": "No"}}], "mark": {"type": "area", "fill": "#7AC0EE", "opacity": 0.3, "interpolate": "monotone"}, "encoding": {"y2": {"field": "lo"}}},
   {"transform": [{"filter": {"field": "g", "equal": "Yes"}}], "mark": {"type": "area", "fill": "#F8913A", "opacity": 0.3, "interpolate": "monotone"}, "encoding": {"y2": {"field": "lo"}}},
   {"mark": {"type": "line", "strokeWidth": 1.2}, "encoding": {"y": {"field": "fit", "type": "quantitative"},
    "stroke": {"field": "g", "type": "nominal", "scale": {"domain": ["No", "Yes"], "range": ["#5DA9DC", "#E8841F"]}, "legend": {"title": "Low_FA_intake", "orient": "none", "legendX": 204, "legendY": 59}},
    "strokeDash": {"field": "g", "type": "nominal", "scale": {"domain": ["No", "Yes"], "range": [[1, 0], [5, 3]]}, "legend": {"title": "Low_FA_intake", "orient": "none", "legendX": 204, "legendY": 59}}}}
  ]}
 ], "spacing": 62, "bounds": "flush",
 "resolve": {"scale": {"x": "independent", "y": "independent", "stroke": "independent", "strokeDash": "independent"}, "legend": {"stroke": "independent", "strokeDash": "independent"}}}
 ]}
 ]}
 ]}
 ]}
 ]}
 ]}
],
"config": {
 "view": {"stroke": null},
 "font": "Liberation Sans",
 "title": {"fontSize": 10, "fontWeight": "normal", "anchor": "start", "frame": "group", "dx": -12, "color": "#000000"},
 "axis": {"domain": false, "ticks": false, "gridColor": "#E4E4E4", "gridWidth": 0.6, "gridDash": [2, 2], "labelFontSize": 5, "labelColor": "#7A7A7A", "labelPadding": 2, "titleFontSize": 6, "titleColor": "#555555", "titleFontWeight": "bold"},
 "axisY": {"titlePadding": 4},
 "axisX": {"titlePadding": 3},
 "legend": {"titleFontSize": 6.5, "titleFontWeight": "normal", "titleColor": "#333333", "labelFontSize": 5, "labelColor": "#666666", "symbolType": "stroke", "symbolSize": 150, "symbolStrokeWidth": 1.3, "rowPadding": -2, "labelOffset": 8, "titlePadding": 5}
}
}
